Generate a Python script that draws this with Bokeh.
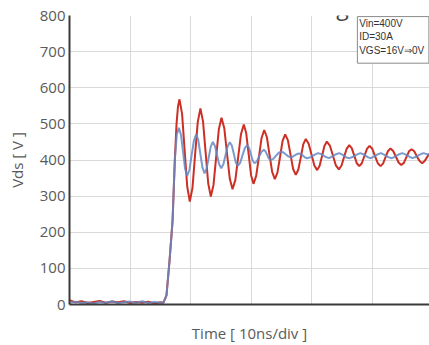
from bokeh.plotting import figure
from bokeh.models import Range1d, FixedTicker, Label
from bokeh.core.properties import value
from bokeh.embed import file_html
from bokeh.resources import INLINE

# Time in ns (10 ns/div), Vds in V
red_t = [0, 1, 2, 3, 4, 5, 6, 7, 8, 9, 10, 11, 12, 13, 14, 15, 15.5, 16.0, 16.5, 17.0, 17.38, 17.66, 17.9, 18.15,
         18.58, 19.0, 19.43, 19.85, 20.29, 20.72, 21.16, 21.6, 22.03, 22.46, 22.89, 23.32,
         23.76, 24.2, 24.64, 25.08, 25.54, 25.99, 26.45, 26.9, 27.37, 27.83, 28.3, 28.76,
         29.16, 29.56, 29.96, 30.36, 30.8, 31.25, 31.69, 32.13, 32.57, 33.0, 33.44, 33.88,
         34.31, 34.74, 35.16, 35.59, 36.03, 36.47, 36.9, 37.34, 37.75, 38.17, 38.58, 38.99,
         39.46, 39.93, 40.4, 40.87, 41.27, 41.67, 42.06, 42.46, 42.96, 43.45, 43.95, 44.44,
         44.87, 45.3, 45.73, 46.16, 46.57, 46.99, 47.4, 47.81, 48.23, 48.66, 49.08, 49.5,
         49.96, 50.41, 50.87, 51.32, 51.73, 52.15, 52.56, 52.97, 53.41, 53.86, 54.3, 54.74,
         55.17, 55.59, 56.02, 56.44, 56.88, 57.32, 57.76, 58.2, 58.6, 59.0, 59.4]
red_v = [12, 6, 9, 4, 7, 10, 5, 8, 6, 9, 4, 7, 5, 8, 3, 6, 5, 25, 120, 230, 400, 500, 548, 568,
         527, 426, 326, 285, 323, 414, 505, 543, 507, 421, 335, 299,
         331, 408, 485, 517, 488, 418, 348, 319, 345, 408, 472, 498,
         474, 416, 358, 334, 356, 408, 461, 483, 463, 415, 367, 347,
         365, 409, 453, 471, 455, 415, 375, 359, 373, 408, 444, 458,
         445, 415, 385, 372, 384, 411, 439, 451, 440, 413, 385, 374,
         384, 408, 431, 441, 433, 412, 391, 383, 391, 411, 431, 439,
         431, 411, 391, 383, 390, 408, 425, 432, 425, 409, 393, 386,
         392, 408, 424, 430, 424, 410, 397, 391, 397, 408, 418]

blue_t = [0, 1, 2, 3, 4, 5, 6, 7, 8, 9, 10, 11, 12, 13, 14, 15, 15.5, 16.0, 16.5, 17.0, 17.38, 17.7, 18.04,
          18.39, 18.73, 19.08, 19.42, 19.79, 20.16, 20.53, 20.9, 21.25, 21.59, 21.94, 22.28,
          22.62, 22.97, 23.31, 23.65, 24.0, 24.34, 24.69, 25.03, 25.39, 25.74, 26.1, 26.45,
          26.78, 27.11, 27.44, 27.77, 28.16, 28.55, 28.93, 29.32, 29.62, 29.93, 30.23, 30.53,
          30.91, 31.3, 31.68, 32.06, 32.34, 32.62, 32.89, 33.17, 33.62, 34.08, 34.53, 34.98,
          35.35, 35.72, 36.1, 36.47, 36.81, 37.16, 37.5, 37.84, 38.19, 38.53, 38.88, 39.22,
          39.8, 40.4, 41.0, 41.6, 42.2, 42.8, 43.4, 44.0, 44.5, 45.1, 45.7, 46.2,
          46.8, 47.4, 48.0, 48.6, 49.2, 49.7, 50.3, 50.9, 51.4, 52.0, 52.6, 53.2,
          53.8, 54.4, 54.9, 55.5, 56.1, 56.6, 57.2, 57.8, 58.4, 59.4]
blue_v = [5, 8, 4, 6, 3, 7, 5, 9, 4, 6, 8, 5, 9, 4, 7, 5, 5, 25, 120, 230, 400, 470, 489,
          470, 423, 375, 356, 373, 414, 454, 471, 455, 417, 379, 363,
          376, 407, 437, 450, 439, 414, 388, 377, 388, 413, 438, 449,
          440, 417, 393, 384, 392, 413, 433, 441, 434, 416, 398, 391,
          396, 410, 423, 428, 424, 414, 404, 400, 403, 412, 420, 423,
          420, 415, 410, 407, 409, 413, 416, 418, 416, 412, 407, 405,
          408, 414, 419, 416, 409, 405, 410, 416, 419, 414, 407, 405,
          409, 415, 419, 415, 408, 405, 410, 416, 419, 414, 408, 405,
          410, 416, 419, 415, 409, 405, 409, 415, 419, 414]

y_ticks = [0, 100, 200, 300, 400, 500, 600, 700, 800]
x_grid = [0, 10, 20, 30, 40, 50]
info_lines = ["Vin=400V", "ID=30A", "VGS=16V\u21d20V"]
title_text = "Turn-off Switching"

FONT = "Open Sans"
GREY = "#5a5a5a"

p = figure(width=429, height=345, output_backend="svg", toolbar_location=None,
           x_range=Range1d(0, 59.4), y_range=Range1d(0, 800),
           min_border_left=69, min_border_right=0, min_border_top=15, min_border_bottom=40)
p.outline_line_color = None
p.background_fill_color = "white"

p.xgrid.ticker = FixedTicker(ticks=x_grid)
p.ygrid.ticker = FixedTicker(ticks=y_ticks)
p.xgrid.grid_line_color = "#d9d9d9"
p.ygrid.grid_line_color = "#d9d9d9"

p.yaxis.ticker = FixedTicker(ticks=y_ticks)
p.yaxis.axis_line_color = "#3a3a3a"
p.yaxis.axis_line_width = 2
p.yaxis.major_tick_line_color = None
p.yaxis.major_tick_out = 0
p.yaxis.major_tick_in = 0
p.yaxis.minor_tick_line_color = None
p.yaxis.major_label_text_font = FONT
p.yaxis.major_label_text_font_size = "15px"
p.yaxis.major_label_text_color = GREY
p.yaxis.major_label_standoff = 4
p.yaxis.axis_label = "Vds [ V ]"
p.yaxis.axis_label_text_font = FONT
p.yaxis.axis_label_text_font_size = "15px"
p.yaxis.axis_label_text_font_style = "normal"
p.yaxis.axis_label_text_color = GREY
p.yaxis.axis_label_standoff = 10

p.xaxis.ticker = FixedTicker(ticks=[])
p.xaxis.axis_line_color = "#3a3a3a"
p.xaxis.axis_line_width = 2
p.xaxis.major_tick_out = 0
p.xaxis.major_tick_in = 0
p.xaxis.major_label_standoff = 0
p.xaxis.axis_label = "Time [ 10ns/div ]"
p.xaxis.axis_label_text_font = FONT
p.xaxis.axis_label_text_font_size = "15px"
p.xaxis.axis_label_text_font_style = "normal"
p.xaxis.axis_label_text_color = GREY
p.xaxis.axis_label_standoff = 18

p.line(red_t, red_v, line_color="#cc2f24", line_width=2)
p.line(blue_t, blue_v, line_color="#6488c4", line_width=2, line_alpha=0.85)

# info box (top right)
p.quad(left=[47.5], right=[59.3], top=[797], bottom=[668],
       fill_color="white", line_color="#8a8a8a", line_width=1)
p.text(x=[47.8] * 3, y=[779, 741, 704], text=info_lines,
       text_font=value("Liberation Sans"), text_font_size="10px",
       text_color="#333333", text_baseline="middle", text_align="left")

# title, only its lower part shows above the plot
p.add_layout(Label(x=30.0, y=825, text=title_text, text_align="center",
                   text_baseline="alphabetic", text_font=FONT,
                   text_font_size="23px", text_color="#444444"))

open("out.html", "w").write(file_html(p, INLINE))
